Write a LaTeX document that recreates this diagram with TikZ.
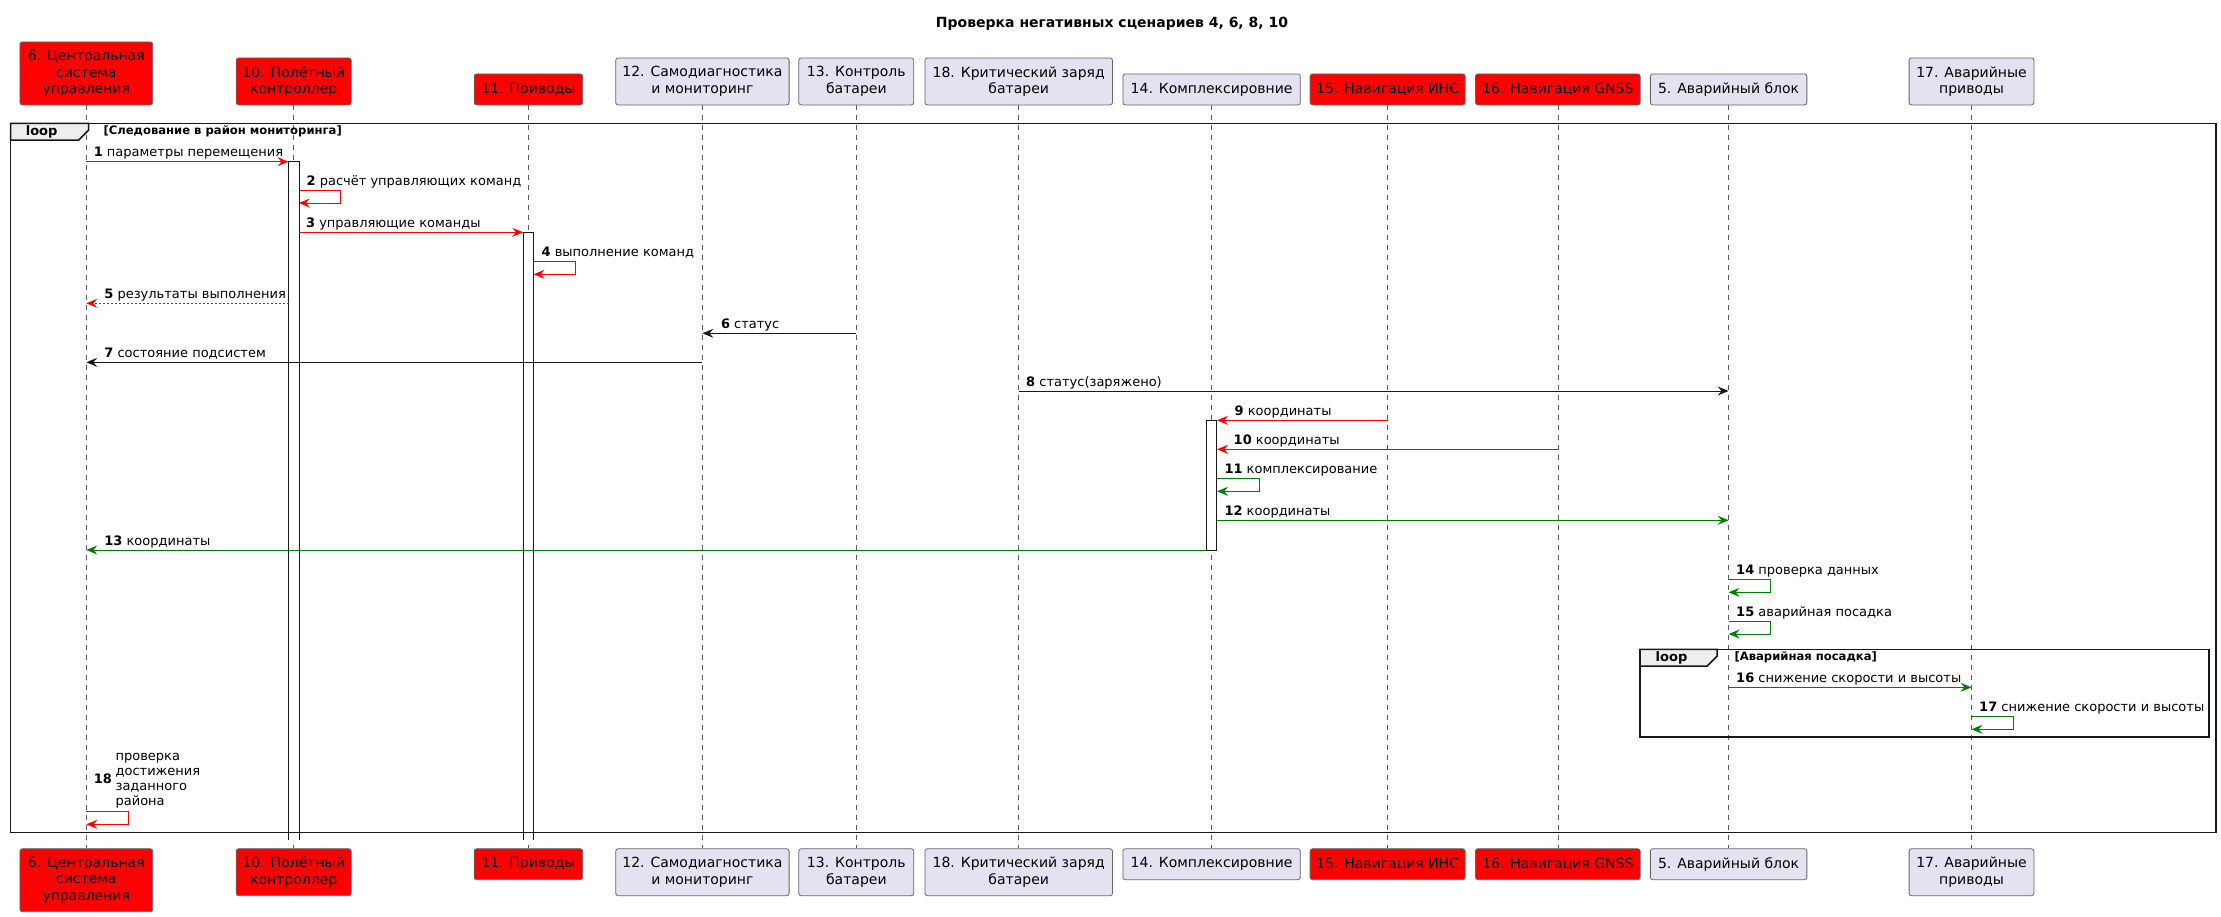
\documentclass[tikz,border=0pt]{standalone}
\usepackage{fontspec}
\setmainfont{DejaVu Sans}
\usetikzlibrary{arrows.meta}
\definecolor{lav}{HTML}{E2E2F0}
\definecolor{pred}{HTML}{FF0000}
\definecolor{pgreen}{HTML}{008000}
\definecolor{dark}{HTML}{181818}
\definecolor{tabfill}{HTML}{EEEEEE}
\begin{document}
\begin{tikzpicture}[x=1pt,y=-1pt,
  part/.style={draw=black!60, line width=0.8pt, rounded corners=2.5pt, inner sep=0pt, align=center, font=\fontsize{14}{16.5}\selectfont, text=black},
  pr/.style={part, fill=pred},
  pl/.style={part, fill=lav},
  life/.style={draw=dark!70, line width=0.6pt, dash pattern=on 5pt off 5pt},
  actbox/.style={draw=dark, fill=white, line width=0.8pt, inner sep=0pt, minimum width=10pt, anchor=north},
  actopen/.style={fill=white, inner sep=0pt, minimum width=10pt, anchor=north},
  actedge/.style={draw=dark, line width=0.8pt},
  msg/.style={line width=1pt, -{Stealth[length=11pt,width=9pt,inset=4pt]}},
  lbl/.style={anchor=base west, inner sep=0pt, font=\fontsize{13}{15}\selectfont},
  frame/.style={draw=dark, line width=1.5pt},
  tab/.style={frame, fill=tabfill},
  looplbl/.style={anchor=west, inner sep=0pt, font=\fontsize{13}{15}\selectfont\bfseries},
  cond/.style={anchor=west, inner sep=0pt, font=\fontsize{11.6}{13}\selectfont\bfseries}
]
\useasboundingbox (0,0) rectangle (2221,916);

\node[anchor=center, font=\fontsize{14}{16}\selectfont\bfseries] (title) at (1112,23.3) {Проверка негативных сценариев 4, 6, 8, 10};

% top participants
\node[pr, minimum width=132.8pt, minimum height=63pt, anchor=south] (t6) at (86.3,105.3) {6. Центральная\\система\\управления};
\node[pr, minimum width=115pt, minimum height=47pt, anchor=south] (t10) at (293.7,105.3) {10. Полётный\\контроллер};
\node[pr, minimum width=108.5pt, minimum height=31pt, anchor=south] (t11) at (528.4,105.3) {11. Приводы};
\node[pl, minimum width=173.4pt, minimum height=47pt, anchor=south] (t12) at (702.4,105.3) {12. Самодиагностика\\и мониторинг};
\node[pl, minimum width=115pt, minimum height=47pt, anchor=south] (t13) at (856.3,105.3) {13. Контроль\\батареи};
\node[pl, minimum width=187.6pt, minimum height=47pt, anchor=south] (t18) at (1018.7,105.3) {18. Критический заряд\\батареи};
\node[pl, minimum width=177.4pt, minimum height=31pt, anchor=south] (t14) at (1211.6,105.3) {14. Комплексировние};
\node[pr, minimum width=155pt, minimum height=31pt, anchor=south] (t15) at (1387.6,105.3) {15. Навигация ИНС};
\node[pr, minimum width=164.7pt, minimum height=31pt, anchor=south] (t16) at (1557.8,105.3) {16. Навигация GNSS};
\node[pl, minimum width=156.5pt, minimum height=31pt, anchor=south] (t5) at (1728.6,105.3) {5. Аварийный блок};
\node[pl, minimum width=124.8pt, minimum height=47pt, anchor=south] (t17) at (1971.5,105.3) {17. Аварийные\\приводы};

% bottom participants
\node[pr, minimum width=132.8pt, minimum height=63pt, anchor=north] (b6) at (86.3,848.3) {6. Центральная\\система\\управления};
\node[pr, minimum width=115pt, minimum height=47pt, anchor=north] (b10) at (293.7,848.3) {10. Полётный\\контроллер};
\node[pr, minimum width=108.5pt, minimum height=31pt, anchor=north] (b11) at (528.4,848.3) {11. Приводы};
\node[pl, minimum width=173.4pt, minimum height=47pt, anchor=north] (b12) at (702.4,848.3) {12. Самодиагностика\\и мониторинг};
\node[pl, minimum width=115pt, minimum height=47pt, anchor=north] (b13) at (856.3,848.3) {13. Контроль\\батареи};
\node[pl, minimum width=187.6pt, minimum height=47pt, anchor=north] (b18) at (1018.7,848.3) {18. Критический заряд\\батареи};
\node[pl, minimum width=177.4pt, minimum height=31pt, anchor=north] (b14) at (1211.6,848.3) {14. Комплексировние};
\node[pr, minimum width=155pt, minimum height=31pt, anchor=north] (b15) at (1387.6,848.3) {15. Навигация ИНС};
\node[pr, minimum width=164.7pt, minimum height=31pt, anchor=north] (b16) at (1557.8,848.3) {16. Навигация GNSS};
\node[pl, minimum width=156.5pt, minimum height=31pt, anchor=north] (b5) at (1728.6,848.3) {5. Аварийный блок};
\node[pl, minimum width=124.8pt, minimum height=47pt, anchor=north] (b17) at (1971.5,848.3) {17. Аварийные\\приводы};

% lifelines
\foreach \p in {6,10,11,12,13,18,14,15,16,5,17}{
  \draw[life] (t\p.south) -- (b\p.north);
}

% activations (P10, P11 stay open at the bottom)
\node[actopen, minimum height=677.6pt] (a10) at (t10 |- 0,161.7) {};
\draw[actedge] (a10.south west) -- (a10.north west) -- (a10.north east) -- (a10.south east);
\node[actopen, minimum height=607pt] (a11) at (t11 |- 0,232.3) {};
\draw[actedge] (a11.south west) -- (a11.north west) -- (a11.north east) -- (a11.south east);
\node[actbox, minimum height=129.7pt] (a14) at (t14 |- 0,420.3) {};

% outer loop
\draw[frame] (10.7,123.3) rectangle (2216,832.3);
\filldraw[tab] (10.7,123.3) -- (88.7,123.3) -- (88.7,130) -- (78.7,140) -- (10.7,140) -- cycle;
\node[looplbl] (loop1) at (25.6,131.7) {loop};
\node[cond] (cond1) at (103.3,131.7) {[Следование в район мониторинга]};

% inner loop
\draw[frame] (1640,649.3) rectangle (2209,737);
\filldraw[tab] (1640,649.3) -- (1717.2,649.3) -- (1717.2,656) -- (1707.2,666) -- (1640,666) -- cycle;
\node[looplbl] (loop2) at (1655.5,657.7) {loop};
\node[cond] (cond2) at (1734.3,657.7) {[Аварийная посадка]};

% messages
\draw[msg, pred] (t6 |- 0,161.7) -- (a10.west |- 0,161.7);
\node[lbl] (l1) at (93.6,156.7) {\textbf{1} параметры перемещения};

\draw[msg, pred] (a10.east |- 0,190.7) -- ++(42,0) -- ++(0,12.3) -- (a10.east |- 0,203);
\node[lbl] (l2) at (306.4,185.7) {\textbf{2} расчёт управляющих команд};

\draw[msg, pred] (a10.east |- 0,232.3) -- (a11.west |- 0,232.3);
\node[lbl] (l3) at (305.9,227.3) {\textbf{3} управляющие команды};

\draw[msg, pred] (a11.east |- 0,261.7) -- ++(42,0) -- ++(0,12.6) -- (a11.east |- 0,274.3);
\node[lbl] (l4) at (541.4,256.7) {\textbf{4} выполнение команд};

\draw[msg, pred, dash pattern=on 2pt off 2pt] (a10.west |- 0,303.3) -- (t6 |- 0,303.3);
\node[lbl] (l5) at (104.2,298.3) {\textbf{5} результаты выполнения};

\draw[msg, dark] (t13 |- 0,333.3) -- (t12 |- 0,333.3);
\node[lbl] (l6) at (720.8,328.3) {\textbf{6} статус};

\draw[msg, dark] (t12 |- 0,362.3) -- (t6 |- 0,362.3);
\node[lbl] (l7) at (104.2,357.3) {\textbf{7} состояние подсистем};

\draw[msg, dark] (t18 |- 0,391) -- (t5 |- 0,391);
\node[lbl] (l8) at (1026,386) {\textbf{8} статус(заряжено)};

\draw[msg, pred] (t15 |- 0,420.3) -- (a14.east |- 0,420.3);
\node[lbl] (l9) at (1234.4,415.3) {\textbf{9} координаты};

\draw[msg, pred] (t16 |- 0,449.3) -- (a14.east |- 0,449.3);
\node[lbl] (l10) at (1233.5,444.3) {\textbf{10} координаты};

\draw[msg, pgreen] (a14.east |- 0,478.7) -- ++(42,0) -- ++(0,12.6) -- (a14.east |- 0,491.3);
\node[lbl] (l11) at (1224.3,473.7) {\textbf{11} комплексирование};

\draw[msg, pgreen] (a14.east |- 0,520.3) -- (t5 |- 0,520.3);
\node[lbl] (l12) at (1224.3,515.3) {\textbf{12} координаты};

\draw[msg, pgreen] (a14.west |- 0,550) -- (t6 |- 0,550);
\node[lbl] (l13) at (104.2,545) {\textbf{13} координаты};

\draw[msg, pgreen] (t5 |- 0,579.3) -- ++(42,0) -- ++(0,13) -- (t5 |- 0,592.3);
\node[lbl] (l14) at (1736,574.3) {\textbf{14} проверка данных};

\draw[msg, pgreen] (t5 |- 0,621.3) -- ++(42,0) -- ++(0,12.7) -- (t5 |- 0,634);
\node[lbl] (l15) at (1736,616.3) {\textbf{15} аварийная посадка};

\draw[msg, pgreen] (t5 |- 0,687.3) -- (t17 |- 0,687.3);
\node[lbl] (l16) at (1736,682.3) {\textbf{16} снижение скорости и высоты};

\draw[msg, pgreen] (t17 |- 0,716.7) -- ++(42,0) -- ++(0,12.6) -- (t17 |- 0,729.3);
\node[lbl] (l17) at (1979,711.7) {\textbf{17} снижение скорости и высоты};

\draw[msg, pred] (t6 |- 0,811) -- ++(42,0) -- ++(0,13.3) -- (t6 |- 0,824.3);
\node[anchor=west, inner sep=0pt, font=\fontsize{13}{15}\selectfont\bfseries] (n18) at (93.6,779) {18};
\node[anchor=west, inner sep=0pt, align=left, font=\fontsize{13}{15.1}\selectfont] (l18) at (115.4,780.6) {проверка\\достижения\\заданного\\района};

\end{tikzpicture}
\end{document}
